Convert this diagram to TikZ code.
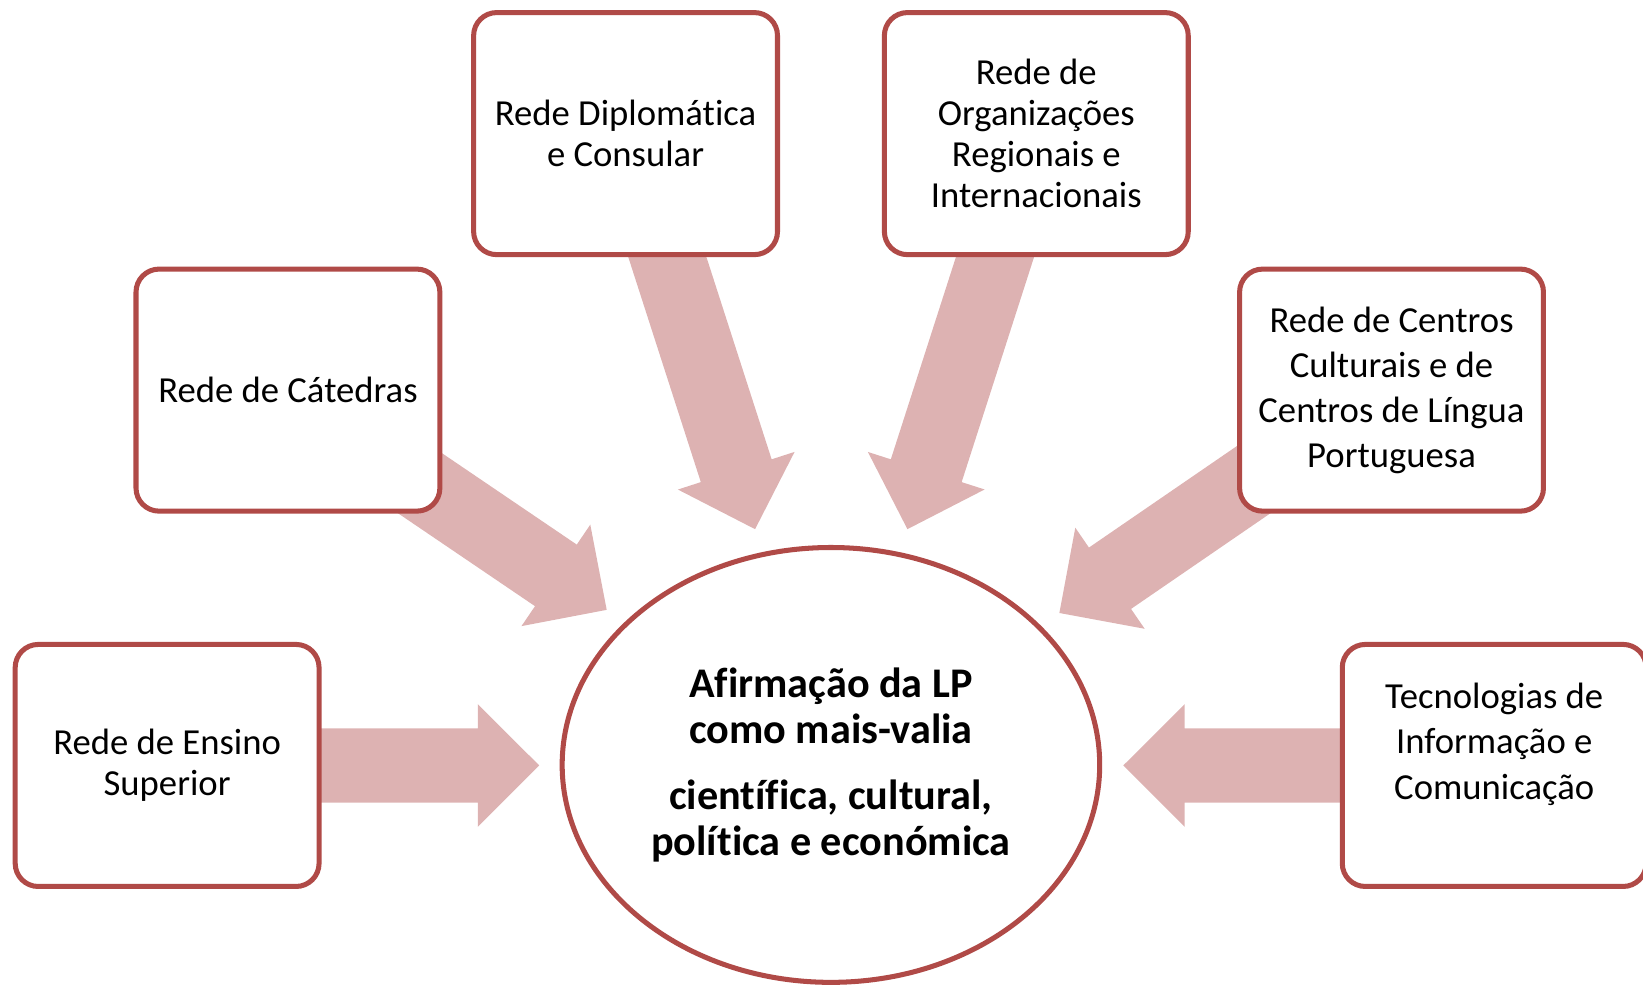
\documentclass[tikz,border=0pt]{standalone}
\usepackage{fontspec}
\setmainfont{Carlito}[Ligatures={NoCommon,NoContextual}]
\usetikzlibrary{calc,shapes.geometric}
\definecolor{bordercol}{RGB}{176,74,71}
\definecolor{arrowcol}{RGB}{221,178,178}
\tikzset{
  netbox/.style={draw=bordercol, line width=4.8pt, fill=white, rounded corners=22pt,
    minimum width=290pt, minimum height=231pt, inner sep=0pt, align=center,
    font=\fontsize{35}{39}\selectfont},
  widebox/.style={netbox, font=\fontsize{35}{43}\selectfont},
  boxtext/.style={inner sep=0pt, align=center, font=\fontsize{35}{43.5}\selectfont},
  goal/.style={ellipse, draw=bordercol, line width=4.8pt, fill=white,
    minimum width=513pt, minimum height=415pt, inner sep=0pt, align=center,
    font=\bfseries\fontsize{40.3}{44.5}\selectfont},
  blockfill/.style={fill=arrowcol}
}
\newcommand{\blockarr}[2]{%
  \coordinate (#2b) at ($(#2)!58.6pt!(#1)$);
  \fill[blockfill] (#2) -- ($(#2b)!58.5pt!90:(#2)$) -- ($(#2b)!35.5pt!90:(#2)$)
    -- ($(#1)!35.5pt!90:(#2)$) -- ($(#1)!35.5pt!-90:(#2)$)
    -- ($(#2b)!35.5pt!-90:(#2)$) -- ($(#2b)!58.5pt!-90:(#2)$) -- cycle;}
\begin{document}
\begin{tikzpicture}[x=1pt,y=-1pt]
\useasboundingbox (0,0) rectangle (1568,940);
% arrow end points
\coordinate (tA) at (300,730.5);   \coordinate (hA) at (514.6,730.5);
\coordinate (tB) at (1290,730.5);  \coordinate (hB) at (1072,730.5);
\coordinate (tC) at (365.5,437.2); \coordinate (hC) at (579,582);
\coordinate (tD) at (622.4,200.4); \coordinate (hD) at (720.6,505);
\coordinate (tE) at (964,200.4);   \coordinate (hE) at (866,505);
\coordinate (tF) at (1225.5,437.8);\coordinate (hF) at (1011,585);
\blockarr{tA}{hA}
\blockarr{tB}{hB}
\blockarr{tC}{hC}
\blockarr{tD}{hD}
\blockarr{tE}{hE}
\blockarr{tF}{hF}
% boxes
\node[netbox] (ens) at (159.5,730.5) {Rede de Ensino\\Superior};
\node[netbox] (cat) at (274.8,372.3) {Rede de Cátedras};
\node[netbox] (dip) at (597,127.5) {Rede Diplomática\\e Consular};
\node[netbox] (org) at (989,127.5) {Rede de\\Organizações\\Regionais e\\Internacionais};
\node[widebox] (cen) at (1328,372.3) {Rede de Centros\\Culturais e de\\Centros de Língua\\Portuguesa};
\node[netbox] (tic) at (1426,730.5) {};
\node[boxtext] (tictext) at (1426,710) {Tecnologias de\\Informação e\\Comunicação};
% centre
\node[goal] (lp) at (793,730) {Afirmação da LP\\como mais-valia\\[18pt]científica, cultural,\\política e económica};
\end{tikzpicture}
\end{document}
